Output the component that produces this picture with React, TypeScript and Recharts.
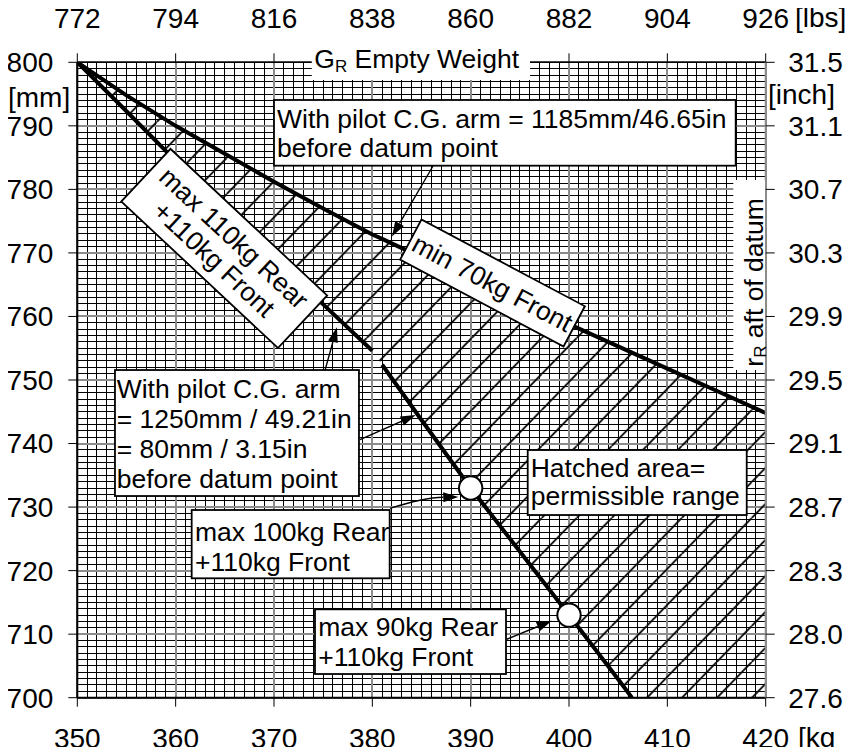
import React from 'react';
import {
  ComposedChart, Area, Line, XAxis, YAxis, ReferenceLine, ReferenceDot
} from 'recharts';

const FONT = '"Liberation Sans", Arial, Helvetica, sans-serif';

// empty weight on the bottom axis, kg
const weightKg = [350, 355, 360, 365, 370, 375, 380, 381, 385, 390, 395, 400, 405, 406.4, 410, 415, 420];
// upper limit: pilot arm 1185mm, min 70kg Front (mm aft of datum)
const min70FrontMm = [800, 794.8, 790, 785.6, 781.2, 777, 772.9, 772.2, 769.3, 765.8, 762.3, 758.8, 755.3, 754.3, 751.8, 748.3, 744.8];
// lower limit, first part: max 110kg Rear +110kg Front
const maxRear110Mm = [800, 792.3, 784.5, 776.8, 769.2, 761.9, 754.6, null, null, null, null, null, null, null, null, null, null];
// lower limit, second part: pilot arm 1250mm
const maxRearLowMm = [null, null, null, null, null, null, null, 752.4, 743.7, 733, 723, 713, 702.9, 700, null, null, null];

// circled points
const markerKg = [390, 400];
const markerMm = [733, 713];

// ticks
const kgTicks = [350, 360, 370, 380, 390, 400, 410, 420];
const lbsLabels = ['772', '794', '816', '838', '860', '882', '904', '926'];
const mmTicks = [700, 710, 720, 730, 740, 750, 760, 770, 780, 790, 800];
const inchLabels = ['27.6', '28.0', '28.3', '28.7', '29.1', '29.5', '29.9', '30.3', '30.7', '31.1', '31.5'];

const rows = weightKg.map((kg, i) => ({
  kg,
  min70Front: min70FrontMm[i],
  maxRear110: maxRear110Mm[i],
  maxRearLow: maxRearLowMm[i],
  band: [maxRear110Mm[i] ?? maxRearLowMm[i] ?? 700, min70FrontMm[i]],
}));

// grid lines
const minorKg: number[] = [];
for (let v = 351; v < 420; v++) if (v % 10 !== 0) minorKg.push(v);
const minorMm: number[] = [];
for (let v = 701; v < 800; v++) if (v % 10 !== 0) minorMm.push(v);

// annotation layout (anchor in kg / mm, sizes in px)
const boxNotes = [
  { key: 'pilot1185', kg: 370, mm: 794.07, w: 461.7, h: 65.7, padX: 3, base: 28.3, lh: 28.4,
    lines: ['With pilot C.G. arm = 1185mm/46.65in', 'before datum point'] },
  { key: 'pilot1250', kg: 353.83, mm: 751.57, w: 244, h: 126, padX: 1.7, base: 28.3, lh: 30,
    lines: ['With pilot C.G. arm', '= 1250mm / 49.21in', '= 80mm / 3.15in', 'before datum point'] },
  { key: 'rear100', kg: 361.63, mm: 729.54, w: 198, h: 68.3, padX: 3.3, base: 30.5, lh: 30,
    lines: ['max 100kg Rear', '+110kg Front'] },
  { key: 'rear90', kg: 374.17, mm: 713.91, w: 191, h: 64.7, padX: 3.3, base: 26.7, lh: 30,
    lines: ['max 90kg Rear', '+110kg Front'] },
  { key: 'hatched', kg: 395.8, mm: 738.98, w: 219, h: 65, padX: 3, base: 26.5, lh: 28.5,
    lines: ['Hatched area=', 'permissible range'] },
];
const tiltedNotes = [
  { key: 'rear110', kg: 364.94, mm: 770.7, w: 214.6, h: 72, angle: 43.1, lh: 29,
    lines: ['max 110kg Rear', '+110kg Front'] },
  { key: 'front70', kg: 392.22, mm: 765.27, w: 185, h: 45.5, angle: 27.96, lh: 29,
    lines: ['min 70kg Front'] },
];
const arrows = [
  { key: 'a1', from: [386.17, 783.68], to: [382.0, 772.6], bend: 0 },
  { key: 'a2', from: [375.2, 751.6], to: [376.4, 758.3], bend: 0 },
  { key: 'a3', from: [378.75, 740.6], to: [384.4, 744.5], bend: 0 },
  { key: 'a4', from: [381.8, 729.8], to: [388.74, 731.6], bend: -5 },
  { key: 'a5', from: [393.67, 709.2], to: [398.24, 712.1], bend: 0 },
];

const FS = 26.5;
const TICK_FS = 28;

const GridLine = ({ x1, y1, x2, y2, color, width }: any) => (
  <line x1={x1} y1={y1} x2={x2} y2={y2} stroke={color} strokeWidth={width} shapeRendering="crispEdges" />
);

const BoxShape = ({ cx, cy, note }: any) => (
  <g>
    <rect x={cx} y={cy} width={note.w} height={note.h} fill="#fff" stroke="#000" strokeWidth={1.8} />
    <text fontFamily={FONT} fontSize={FS} fill="#000">
      {note.lines.map((t: string, i: number) => (
        <tspan key={i} x={cx + note.padX} y={cy + note.base + i * note.lh}>{t}</tspan>
      ))}
    </text>
  </g>
);

const TiltedShape = ({ cx, cy, note }: any) => {
  const total = (note.lines.length - 1) * note.lh;
  return (
    <g transform={`translate(${cx},${cy}) rotate(${note.angle})`}>
      <rect x={-note.w / 2} y={-note.h / 2} width={note.w} height={note.h} fill="#fff" stroke="#000" strokeWidth={1.8} />
      <text fontFamily={FONT} fontSize={FS} fill="#000" textAnchor="middle">
        {note.lines.map((t: string, i: number) => (
          <tspan key={i} x={0} y={-total / 2 + i * note.lh + 0.355 * FS}>{t}</tspan>
        ))}
      </text>
    </g>
  );
};

const ArrowShape = ({ x1, y1, x2, y2, bend }: any) => {
  const mx = (x1 + x2) / 2;
  const my = (y1 + y2) / 2;
  const len = Math.hypot(x2 - x1, y2 - y1) || 1;
  const nx = -(y2 - y1) / len;
  const ny = (x2 - x1) / len;
  const qx = mx + nx * bend;
  const qy = my + ny * bend;
  const ang = Math.atan2(y2 - qy, x2 - qx);
  const hl = 15;
  const hw = 5;
  const bx = x2 - Math.cos(ang) * hl;
  const by = y2 - Math.sin(ang) * hl;
  const px = -Math.sin(ang) * hw;
  const py = Math.cos(ang) * hw;
  return (
    <g>
      <path d={`M${x1},${y1} Q${qx},${qy} ${bx},${by}`} fill="none" stroke="#000" strokeWidth={1.4} />
      <path d={`M${x2},${y2} L${bx + px},${by + py} L${bx - px},${by - py} Z`} fill="#000" />
    </g>
  );
};

const TitleShape = ({ cx, cy }: any) => (
  <g>
    <rect x={cx} y={cy - 22} width={218.3} height={39.7} fill="#fff" />
    <text x={cx + 2.6} y={cy + 6} fontFamily={FONT} fontSize={FS} fill="#000" style={{ whiteSpace: 'pre' }}>
      <tspan>G</tspan>
      <tspan fontSize={17} dy={3.4}>R</tspan>
      <tspan dy={-3.4}> Empty Weight</tspan>
    </text>
  </g>
);

const SideTitleShape = ({ cx, cy }: any) => (
  <g>
    <rect x={cx - 32.4} y={cy - 102.5} width={31.7} height={190} fill="#fff" />
    <text transform={`translate(${cx - 3},${cy}) rotate(-90)`} textAnchor="middle"
      fontFamily={FONT} fontSize={FS} fill="#000" style={{ whiteSpace: 'pre' }}>
      <tspan>r</tspan>
      <tspan fontSize={17} dy={3.4}>R</tspan>
      <tspan dy={-3.4}> aft of datum</tspan>
    </text>
  </g>
);

const tickText = (anchor: string, dy: string, labels?: string[]) => (props: any) => {
  const { x, y, payload, index } = props;
  return (
    <text x={x} y={y} dy={dy} textAnchor={anchor} fontFamily={FONT} fontSize={TICK_FS} fill="#000">
      {labels ? labels[index] : payload.value}
    </text>
  );
};

const App: React.FC = () => {
  return (
    <div style={{ margin: -8, width: 855, height: 755 }}>
      <ComposedChart width={855} height={755} data={rows}
        margin={{ top: 0.3, right: 0.3, bottom: 0.3, left: 0.3 }}>
        <defs>
          <pattern id="hatch" patternUnits="userSpaceOnUse" x={646.7} y={662} width={35} height={36}>
            <path d="M0,36 L35,0 M-35,36 L0,0 M35,36 L70,0" stroke="#000" strokeWidth={1.8} />
          </pattern>
        </defs>

        {minorKg.map((v) => (
          <ReferenceLine key={'vk' + v} x={v} xAxisId="kg" yAxisId="mm" zIndex={-60}
            shape={(p: any) => <GridLine {...p} color="#000" width={1} />} />
        ))}
        {minorMm.map((v) => (
          <ReferenceLine key={'hm' + v} y={v} xAxisId="kg" yAxisId="mm" zIndex={-60}
            shape={(p: any) => <GridLine {...p} color="#000" width={1} />} />
        ))}
        {kgTicks.map((v) => (
          <ReferenceLine key={'VK' + v} x={v} xAxisId="kg" yAxisId="mm" zIndex={-50}
            shape={(p: any) => <GridLine {...p} color="#8c8c8c" width={2} />} />
        ))}
        {mmTicks.map((v) => (
          <ReferenceLine key={'HM' + v} y={v} xAxisId="kg" yAxisId="mm" zIndex={-50}
            shape={(p: any) => <GridLine {...p} color="#8c8c8c" width={2} />} />
        ))}

        <XAxis xAxisId="kg" dataKey="kg" type="number" domain={[350, 420]} ticks={kgTicks}
          allowDataOverflow height={57} tickSize={9} tickMargin={21.6}
          axisLine={{ stroke: '#000', strokeWidth: 2 }} tickLine={{ stroke: '#000' }}
          tick={tickText('middle', '0.71em')} />
        <XAxis xAxisId="lbs" orientation="top" dataKey="kg" type="number" domain={[350, 420]} ticks={kgTicks}
          allowDataOverflow height={62} tickSize={9} tickMargin={25}
          axisLine={{ stroke: '#000', strokeWidth: 1.5 }} tickLine={{ stroke: '#000' }}
          tick={tickText('middle', '0', lbsLabels)} />
        <YAxis yAxisId="mm" type="number" domain={[700, 800]} ticks={mmTicks}
          allowDataOverflow width={77} tickSize={9} tickMargin={15}
          axisLine={{ stroke: '#000', strokeWidth: 2 }} tickLine={{ stroke: '#000' }}
          tick={tickText('end', '0.355em')} />
        <YAxis yAxisId="inch" orientation="right" type="number" domain={[700, 800]} ticks={mmTicks}
          allowDataOverflow width={89} tickSize={9} tickMargin={13.6}
          axisLine={{ stroke: '#8c8c8c', strokeWidth: 2 }} tickLine={{ stroke: '#000' }}
          tick={tickText('start', '0.355em', inchLabels)} />

        <Area xAxisId="kg" yAxisId="mm" dataKey="band" type="linear" fill="url(#hatch)" fillOpacity={1}
          stroke="none" isAnimationActive={false} />
        <Line xAxisId="kg" yAxisId="mm" dataKey="min70Front" type="linear" stroke="#000" strokeWidth={4}
          dot={false} activeDot={false} isAnimationActive={false} />
        <Line xAxisId="kg" yAxisId="mm" dataKey="maxRear110" type="linear" stroke="#000" strokeWidth={4}
          dot={false} activeDot={false} isAnimationActive={false} />
        <Line xAxisId="kg" yAxisId="mm" dataKey="maxRearLow" type="linear" stroke="#000" strokeWidth={4}
          dot={false} activeDot={false} isAnimationActive={false} />

        {arrows.map((a) => (
          <ReferenceLine key={a.key} xAxisId="kg" yAxisId="mm" ifOverflow="visible" zIndex={650}
            segment={[{ x: a.from[0], y: a.from[1] }, { x: a.to[0], y: a.to[1] }]}
            shape={(p: any) => <ArrowShape {...p} bend={a.bend} />} />
        ))}
        {markerKg.map((kg, i) => (
          <ReferenceDot key={'m' + kg} xAxisId="kg" yAxisId="mm" x={kg} y={markerMm[i]} r={11.7}
            fill="#fff" stroke="#000" strokeWidth={2} ifOverflow="visible" zIndex={660} />
        ))}
        {boxNotes.map((n) => (
          <ReferenceDot key={n.key} xAxisId="kg" yAxisId="mm" x={n.kg} y={n.mm} ifOverflow="visible"
            zIndex={700} shape={(p: any) => <BoxShape {...p} note={n} />} />
        ))}
        {tiltedNotes.map((n) => (
          <ReferenceDot key={n.key} xAxisId="kg" yAxisId="mm" x={n.kg} y={n.mm} ifOverflow="visible"
            zIndex={700} shape={(p: any) => <TiltedShape {...p} note={n} />} />
        ))}
        <ReferenceDot xAxisId="kg" yAxisId="mm" x={373.84} y={800} ifOverflow="visible" zIndex={800}
          shape={(p: any) => <TitleShape {...p} />} />
        <ReferenceDot xAxisId="kg" yAxisId="mm" x={420} y={765.35} ifOverflow="visible" zIndex={800}
          shape={(p: any) => <SideTitleShape {...p} />} />

        <text x={8} y={106.5} fontFamily={FONT} fontSize={TICK_FS} fill="#000">[mm]</text>
        <text x={768} y={103.5} fontFamily={FONT} fontSize={TICK_FS} fill="#000">[inch]</text>
        <text x={795} y={26.5} fontFamily={FONT} fontSize={TICK_FS} fill="#000">[lbs]</text>
        <text x={798} y={747} fontFamily={FONT} fontSize={TICK_FS} fill="#000">[kg</text>
      </ComposedChart>
    </div>
  );
};

export default App;
